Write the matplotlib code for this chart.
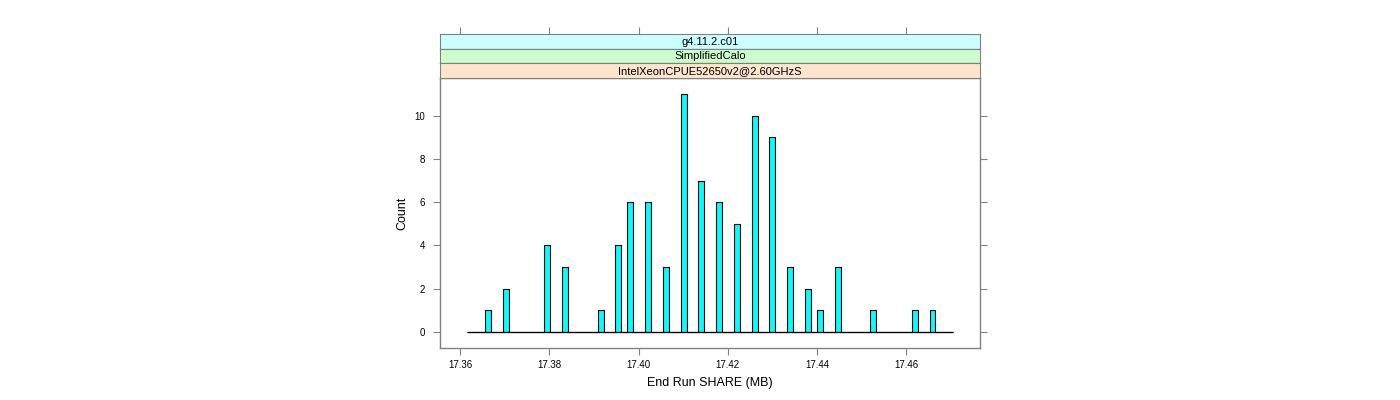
import numpy as np
import matplotlib
matplotlib.use("Agg")
import matplotlib.pyplot as plt

plt.rcParams['font.family'] = ['Liberation Sans', 'DejaVu Sans']

# end-of-run SHARE memory values (MB) and how many runs fell in each
share_mb = [17.3663, 17.3703, 17.3796, 17.3836, 17.3915, 17.3955, 17.3982,
            17.4021, 17.4061, 17.4101, 17.4141, 17.4181, 17.4221, 17.4261,
            17.4300, 17.4340, 17.4380, 17.4407, 17.4446, 17.4526, 17.4619,
            17.4659]
counts = [1, 2, 4, 3, 1, 4, 6, 6, 3, 11, 7, 6, 5, 10, 9, 3, 2, 1, 3, 1, 1, 1]

strip_labels = ["g4.11.2.c01", "SimplifiedCalo", "IntelXeonCPUE52650v2@2.60GHzS"]
strip_colors = ["#CCFFFF", "#CCFFCC", "#FFE5CC"]

x_ticks = [17.36, 17.38, 17.40, 17.42, 17.44, 17.46]
y_ticks = [0, 2, 4, 6, 8, 10]

# histogram breaks
bin_lo, bin_hi, n_bins = 17.3616, 17.4705, 82
edges = np.linspace(bin_lo, bin_hi, n_bins + 1)

frame = '#808080'

fig = plt.figure(figsize=(14, 4), dpi=100)
ax = fig.add_axes([440/1400, 1 - 348/400, 540/1400, 270/400])

ax.hist(share_mb, bins=edges, weights=counts, color='#00FFFF',
        edgecolor='black', linewidth=0.8)
# empty bins show as a flat line along zero
ax.hlines(0, edges[0], edges[-1], color='black', linewidth=0.9)

ax.set_xlim(17.3555, 17.4765)
ax.set_ylim(-0.75, 11.75)
ax.set_xticks(x_ticks)
ax.set_xticklabels([f"{t:.2f}" for t in x_ticks])
ax.set_yticks(y_ticks)
ax.tick_params(axis='x', direction='out', length=5, width=0.8, color=frame,
               labelsize=7, pad=4, top=False)
ax.tick_params(axis='y', direction='out', length=5, width=0.8, color=frame,
               labelsize=7, pad=5.5, right=True, labelright=False)
for s in ax.spines.values():
    s.set_color(frame)
    s.set_linewidth(1)

ax.set_xlabel("End Run SHARE (MB)", fontsize=9)
ax.xaxis.set_label_coords(0.5, -0.13)
ax.xaxis.label.set_va('center')
ax.set_ylabel("Count", fontsize=9)
ax.yaxis.set_label_coords(-0.0704, 0.5)
ax.yaxis.label.set_va('center')

# strips on top of panel
strip_h = 14.6
for i, (lab, col) in enumerate(zip(strip_labels, strip_colors)):
    y0 = 400 - 78 + (len(strip_labels) - 1 - i) * strip_h
    sax = fig.add_axes([440/1400, y0/400, 540/1400, strip_h/400], sharex=ax)
    sax.set_facecolor(col)
    sax.set_yticks([])
    sax.text(0.5, 0.48, lab, transform=sax.transAxes, ha='center', va='center',
             fontsize=8)
    for s in sax.spines.values():
        s.set_color(frame)
    sax.spines['bottom'].set_color('black' if i < 2 else frame)
    if i == 0:
        sax.tick_params(axis='x', direction='out', length=5, width=0.8,
                        color=frame, bottom=False, labelbottom=False,
                        top=True, labeltop=False)
    else:
        sax.tick_params(axis='x', bottom=False, labelbottom=False)

fig.savefig('out.png', dpi=100, facecolor='w')
